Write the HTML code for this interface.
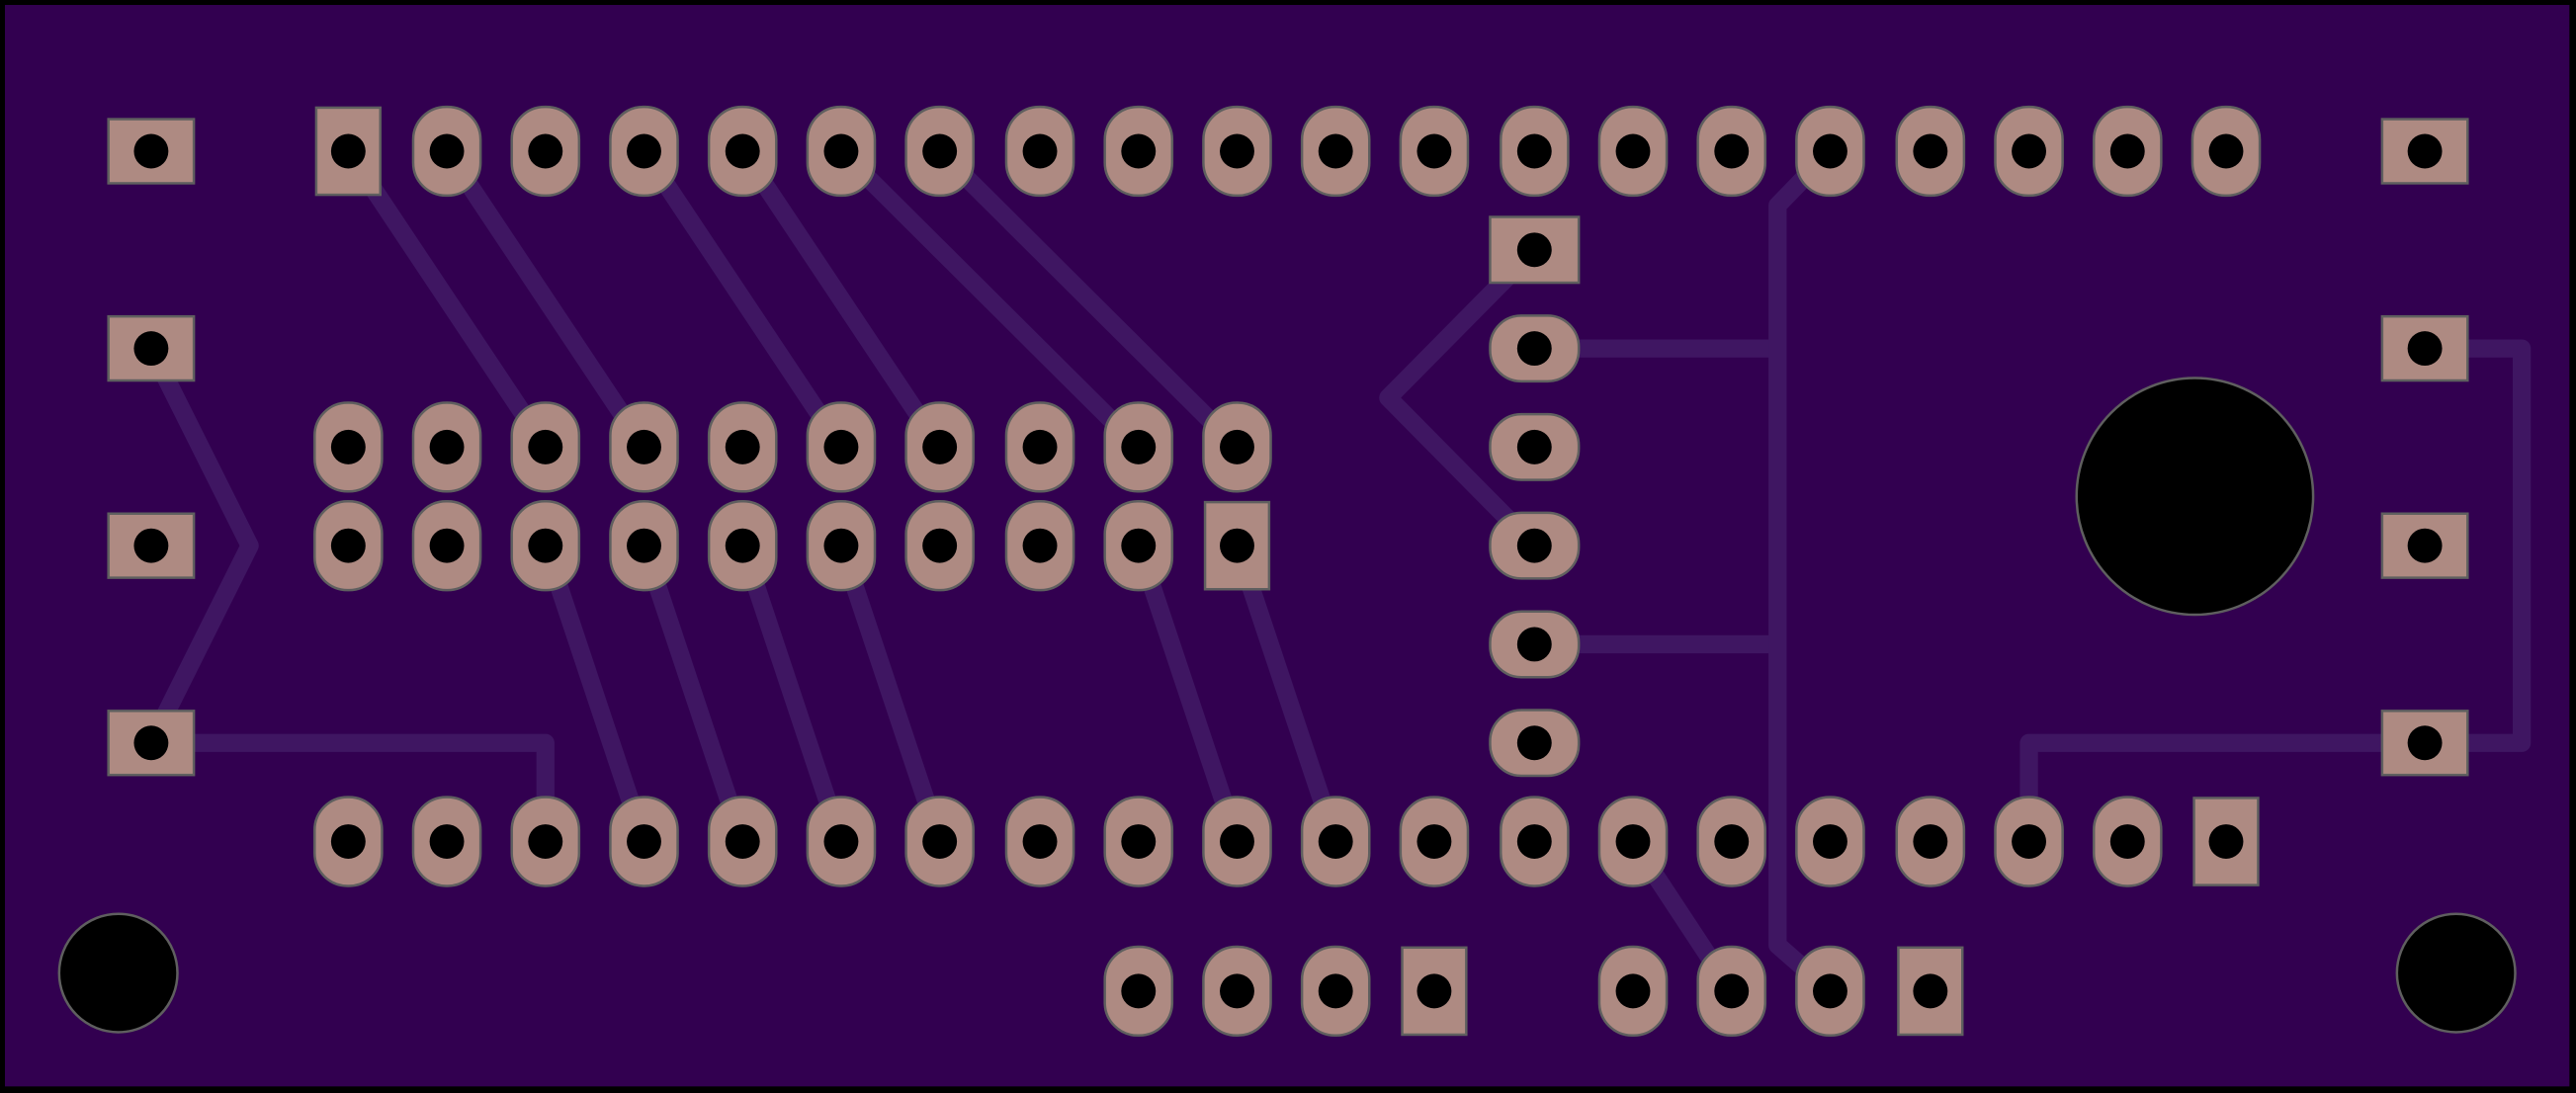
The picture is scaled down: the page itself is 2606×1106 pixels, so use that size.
<!DOCTYPE html>
<html><head><meta charset="utf-8"><style>html,body{margin:0;padding:0;background:#000}svg{display:block}</style></head>
<body>
<svg width="2606" height="1106" viewBox="0 0 1568 665" preserveAspectRatio="none" xmlns="http://www.w3.org/2000/svg">
<defs>
<g id="ov"><rect x="-20.5" y="-27" width="41" height="54" rx="20" ry="20" fill="#ae8a82" stroke="#5f5f5f" stroke-width="1.5"/><circle r="10.5" fill="#000"/></g>
<g id="sq"><rect x="-19.5" y="-26.5" width="39" height="53" fill="#ae8a82" stroke="#5f5f5f" stroke-width="1.5"/><circle r="10.5" fill="#000"/></g>
<g id="ls"><rect x="-26" y="-19.5" width="52" height="39" fill="#ae8a82" stroke="#5f5f5f" stroke-width="1.5"/><circle r="10.5" fill="#000"/></g>
<g id="ho"><rect x="-27" y="-20" width="54" height="40" rx="19" ry="19" fill="#ae8a82" stroke="#5f5f5f" stroke-width="1.5"/><circle r="10.5" fill="#000"/></g>
</defs>
<rect x="0" y="0" width="1568" height="665" fill="#000"/>
<rect x="3" y="3" width="1561" height="658" fill="#320050"/>
<g fill="none" stroke="#3f1662" stroke-width="11" stroke-linejoin="round">
<path d="M212,92 L332,272"/><path d="M272,92 L392,272"/><path d="M392,92 L512,272"/><path d="M452,92 L572,272"/>
<path d="M512,92 L693,272"/><path d="M572,92 L753,272"/>
<path d="M332,332 L392,512"/><path d="M392,332 L452,512"/><path d="M452,332 L512,512"/><path d="M512,332 L572,512"/>
<path d="M693,332 L753,512"/><path d="M753,332 L813,512"/>
<path d="M92,212 L152,332 L92,452"/>
<path d="M92,452 L332,452 L332,512"/>
<path d="M934,152 L845,242 L934,332"/>
<path d="M934,212 L1082,212"/><path d="M934,392 L1082,392"/>
<path d="M1114,92 L1082,125 L1082,575 L1114,603"/>
<path d="M994,512 L1054,603"/>
<path d="M1476,212 L1535,212 L1535,452 L1476,452"/>
<path d="M1476,452 L1235,452 L1235,512"/>
</g>
<g>
<use href="#ls" x="92" y="92"/><use href="#ls" x="92" y="212"/><use href="#ls" x="92" y="332"/><use href="#ls" x="92" y="452"/>
<use href="#ls" x="1476" y="92"/><use href="#ls" x="1476" y="212"/><use href="#ls" x="1476" y="332"/><use href="#ls" x="1476" y="452"/>
<use href="#sq" x="212" y="92"/>
<use href="#ov" x="272" y="92"/><use href="#ov" x="332" y="92"/><use href="#ov" x="392" y="92"/><use href="#ov" x="452" y="92"/><use href="#ov" x="512" y="92"/><use href="#ov" x="572" y="92"/><use href="#ov" x="633" y="92"/><use href="#ov" x="693" y="92"/><use href="#ov" x="753" y="92"/><use href="#ov" x="813" y="92"/><use href="#ov" x="873" y="92"/><use href="#ov" x="934" y="92"/><use href="#ov" x="994" y="92"/><use href="#ov" x="1054" y="92"/><use href="#ov" x="1114" y="92"/><use href="#ov" x="1175" y="92"/><use href="#ov" x="1235" y="92"/><use href="#ov" x="1295" y="92"/><use href="#ov" x="1355" y="92"/>
<use href="#ov" x="212" y="272"/><use href="#ov" x="272" y="272"/><use href="#ov" x="332" y="272"/><use href="#ov" x="392" y="272"/><use href="#ov" x="452" y="272"/><use href="#ov" x="512" y="272"/><use href="#ov" x="572" y="272"/><use href="#ov" x="633" y="272"/><use href="#ov" x="693" y="272"/><use href="#ov" x="753" y="272"/>
<use href="#ov" x="212" y="332"/><use href="#ov" x="272" y="332"/><use href="#ov" x="332" y="332"/><use href="#ov" x="392" y="332"/><use href="#ov" x="452" y="332"/><use href="#ov" x="512" y="332"/><use href="#ov" x="572" y="332"/><use href="#ov" x="633" y="332"/><use href="#ov" x="693" y="332"/><use href="#sq" x="753" y="332"/>
<use href="#ov" x="212" y="512"/><use href="#ov" x="272" y="512"/><use href="#ov" x="332" y="512"/><use href="#ov" x="392" y="512"/><use href="#ov" x="452" y="512"/><use href="#ov" x="512" y="512"/><use href="#ov" x="572" y="512"/><use href="#ov" x="633" y="512"/><use href="#ov" x="693" y="512"/><use href="#ov" x="753" y="512"/><use href="#ov" x="813" y="512"/><use href="#ov" x="873" y="512"/><use href="#ov" x="934" y="512"/><use href="#ov" x="994" y="512"/><use href="#ov" x="1054" y="512"/><use href="#ov" x="1114" y="512"/><use href="#ov" x="1175" y="512"/><use href="#ov" x="1235" y="512"/><use href="#ov" x="1295" y="512"/><use href="#sq" x="1355" y="512"/>
<use href="#ov" x="693" y="603"/><use href="#ov" x="753" y="603"/><use href="#ov" x="813" y="603"/><use href="#sq" x="873" y="603"/>
<use href="#ov" x="994" y="603"/><use href="#ov" x="1054" y="603"/><use href="#ov" x="1114" y="603"/><use href="#sq" x="1175" y="603"/>
<g><rect x="907" y="132" width="54" height="40" fill="#ae8a82" stroke="#5f5f5f" stroke-width="1.5"/><circle cx="934" cy="152" r="10.5" fill="#000"/></g>
<use href="#ho" x="934" y="212"/><use href="#ho" x="934" y="272"/><use href="#ho" x="934" y="332"/><use href="#ho" x="934" y="392"/><use href="#ho" x="934" y="452"/>
</g>
<g fill="#000" stroke="#5f5f5f" stroke-width="1.5">
<circle cx="72" cy="592" r="36"/><circle cx="1495" cy="592" r="36"/><circle cx="1336" cy="302" r="72"/>
</g>
</svg>
</body></html>
